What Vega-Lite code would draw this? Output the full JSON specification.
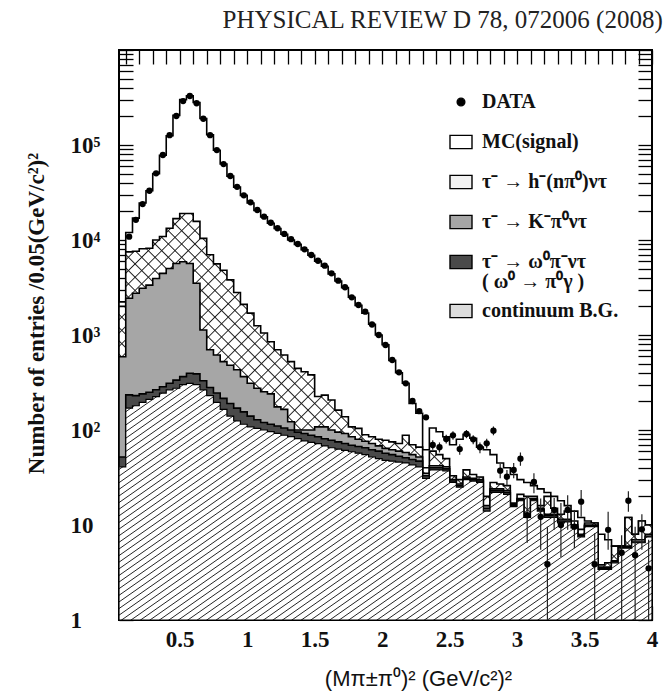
{
  "$schema": "https://vega.github.io/schema/vega-lite/v6.json",
  "width": 533,
  "height": 570,
  "autosize": {"type": "none"},
  "padding": {"left": 119, "top": 50, "right": 11, "bottom": 73},
  "background": "white",
  "config": {
    "view": {"stroke": "black", "strokeWidth": 2},
    "axis": {"grid": false, "domain": false, "tickColor": "black", "tickWidth": 1.3, "zindex": 1, "labelOverlap": false}
  },
  "title": {"text": "PHYSICAL REVIEW D 78, 072006 (2008)", "anchor": "end", "font": "Liberation Serif", "fontSize": 25, "fontWeight": "normal", "color": "#222", "offset": 6, "dx": 5},
  "datasets": {
    "bins": [
      {"x0":0.05,"x1":0.10,"C":41,"W":52,"K":590,"H":2000,"T":2230},
      {"x0":0.10,"x1":0.15,"C":170,"W":234,"K":2440,"H":7500,"T":12000},
      {"x0":0.15,"x1":0.20,"C":180,"W":230,"K":2750,"H":7600,"T":17000},
      {"x0":0.20,"x1":0.25,"C":195,"W":240,"K":3100,"H":8100,"T":24500},
      {"x0":0.25,"x1":0.30,"C":210,"W":250,"K":3350,"H":8200,"T":33000},
      {"x0":0.30,"x1":0.35,"C":225,"W":265,"K":3930,"H":10000,"T":50000},
      {"x0":0.35,"x1":0.40,"C":245,"W":285,"K":4450,"H":10900,"T":78000},
      {"x0":0.40,"x1":0.45,"C":265,"W":310,"K":5020,"H":13300,"T":125000},
      {"x0":0.45,"x1":0.50,"C":275,"W":335,"K":5650,"H":16800,"T":205000},
      {"x0":0.50,"x1":0.55,"C":300,"W":365,"K":5900,"H":19000,"T":300000},
      {"x0":0.55,"x1":0.60,"C":310,"W":395,"K":5650,"H":19000,"T":330000},
      {"x0":0.60,"x1":0.65,"C":300,"W":390,"K":3500,"H":15700,"T":280000},
      {"x0":0.65,"x1":0.70,"C":265,"W":330,"K":1130,"H":10400,"T":190000},
      {"x0":0.70,"x1":0.75,"C":230,"W":280,"K":700,"H":7000,"T":128000},
      {"x0":0.75,"x1":0.80,"C":195,"W":245,"K":615,"H":5600,"T":88000},
      {"x0":0.80,"x1":0.85,"C":165,"W":215,"K":525,"H":4800,"T":63000},
      {"x0":0.85,"x1":0.90,"C":140,"W":190,"K":480,"H":3800,"T":47000},
      {"x0":0.90,"x1":0.95,"C":125,"W":170,"K":430,"H":2800,"T":36000},
      {"x0":0.95,"x1":1.00,"C":115,"W":155,"K":365,"H":2100,"T":29500},
      {"x0":1.00,"x1":1.05,"C":108,"W":140,"K":310,"H":1700,"T":24500},
      {"x0":1.05,"x1":1.10,"C":104,"W":128,"K":275,"H":1250,"T":20500},
      {"x0":1.10,"x1":1.15,"C":100,"W":120,"K":253,"H":1050,"T":17500},
      {"x0":1.15,"x1":1.20,"C":96,"W":115,"K":240,"H":850,"T":15000},
      {"x0":1.20,"x1":1.25,"C":92,"W":110,"K":175,"H":700,"T":13200},
      {"x0":1.25,"x1":1.30,"C":88,"W":105,"K":165,"H":615,"T":11500},
      {"x0":1.30,"x1":1.35,"C":85,"W":100,"K":122,"H":525,"T":10000},
      {"x0":1.35,"x1":1.40,"C":81,"W":95,"K":100,"H":445,"T":9000},
      {"x0":1.40,"x1":1.45,"C":77,"W":92,"K":100,"H":410,"T":7900},
      {"x0":1.45,"x1":1.50,"C":74,"W":88,"K":100,"H":380,"T":6900},
      {"x0":1.50,"x1":1.55,"C":72,"W":85,"K":108,"H":225,"T":6000},
      {"x0":1.55,"x1":1.60,"C":68,"W":81,"K":108,"H":233,"T":5300},
      {"x0":1.60,"x1":1.65,"C":65,"W":78,"K":100,"H":207,"T":4400},
      {"x0":1.65,"x1":1.70,"C":63,"W":75,"K":95,"H":162,"T":3700},
      {"x0":1.70,"x1":1.75,"C":61,"W":72,"K":92,"H":138,"T":3150},
      {"x0":1.75,"x1":1.80,"C":59,"W":69,"K":85,"H":108,"T":2500},
      {"x0":1.80,"x1":1.85,"C":57,"W":67,"K":80,"H":104,"T":2050},
      {"x0":1.85,"x1":1.90,"C":55,"W":65,"K":76,"H":89,"T":1700},
      {"x0":1.90,"x1":1.95,"C":52,"W":62,"K":72,"H":85,"T":1300},
      {"x0":1.95,"x1":2.00,"C":50,"W":60,"K":68,"H":80,"T":1000},
      {"x0":2.00,"x1":2.05,"C":48,"W":57,"K":64,"H":78,"T":790},
      {"x0":2.05,"x1":2.10,"C":47,"W":55,"K":62,"H":75,"T":540},
      {"x0":2.10,"x1":2.15,"C":46,"W":53,"K":60,"H":72,"T":400},
      {"x0":2.15,"x1":2.20,"C":45,"W":51,"K":58,"H":88,"T":310},
      {"x0":2.20,"x1":2.25,"C":43,"W":49,"K":55,"H":70,"T":190},
      {"x0":2.25,"x1":2.30,"C":41,"W":47,"K":52,"H":66,"T":150},
      {"x0":2.30,"x1":2.35,"C":31,"W":33,"K":35,"H":40,"T":62},
      {"x0":2.35,"x1":2.40,"C":38,"W":40,"K":42,"H":60,"T":105},
      {"x0":2.40,"x1":2.45,"C":38,"W":40,"K":42,"H":55,"T":96},
      {"x0":2.45,"x1":2.50,"C":37,"W":39,"K":41,"H":50,"T":85},
      {"x0":2.50,"x1":2.55,"C":28,"W":29,"K":30,"H":33,"T":70},
      {"x0":2.55,"x1":2.60,"C":25,"W":26,"K":27,"H":30,"T":80},
      {"x0":2.60,"x1":2.65,"C":30,"W":31,"K":32,"H":38,"T":90},
      {"x0":2.65,"x1":2.70,"C":29,"W":30,"K":31,"H":34,"T":82},
      {"x0":2.70,"x1":2.75,"C":28,"W":29,"K":30,"H":32,"T":66},
      {"x0":2.75,"x1":2.80,"C":14,"W":15,"K":16,"H":20,"T":62},
      {"x0":2.80,"x1":2.85,"C":22,"W":23,"K":24,"H":28,"T":55},
      {"x0":2.85,"x1":2.90,"C":22,"W":23,"K":24,"H":27,"T":45},
      {"x0":2.90,"x1":2.95,"C":21,"W":22,"K":23,"H":26,"T":40},
      {"x0":2.95,"x1":3.00,"C":15.6,"W":16,"K":16.5,"H":17,"T":34},
      {"x0":3.00,"x1":3.05,"C":18,"W":18.5,"K":19,"H":21,"T":30},
      {"x0":3.05,"x1":3.10,"C":12,"W":12.5,"K":13,"H":20,"T":28},
      {"x0":3.10,"x1":3.15,"C":18,"W":18.5,"K":19,"H":20,"T":26},
      {"x0":3.15,"x1":3.20,"C":14,"W":14.5,"K":15,"H":16,"T":24},
      {"x0":3.20,"x1":3.25,"C":12,"W":12.5,"K":13,"H":20,"T":22},
      {"x0":3.25,"x1":3.30,"C":12,"W":12.5,"K":13,"H":15,"T":20},
      {"x0":3.30,"x1":3.35,"C":10.5,"W":11,"K":11.5,"H":13,"T":18},
      {"x0":3.35,"x1":3.40,"C":10.8,"W":11,"K":11.5,"H":14,"T":16},
      {"x0":3.40,"x1":3.45,"C":9.3,"W":9.5,"K":10,"H":11,"T":14},
      {"x0":3.45,"x1":3.50,"C":7.5,"W":7.7,"K":8,"H":9,"T":12},
      {"x0":3.50,"x1":3.55,"C":9.6,"W":9.8,"K":10,"H":10.5,"T":11},
      {"x0":3.55,"x1":3.60,"C":9.6,"W":9.8,"K":10,"H":10.5,"T":10.5},
      {"x0":3.60,"x1":3.65,"C":3.4,"W":3.5,"K":3.6,"H":3.8,"T":8},
      {"x0":3.65,"x1":3.70,"C":3.4,"W":3.5,"K":3.6,"H":4,"T":7},
      {"x0":3.70,"x1":3.75,"C":4,"W":4.1,"K":4.2,"H":6,"T":6},
      {"x0":3.75,"x1":3.80,"C":5.7,"W":5.8,"K":6,"H":6,"T":6},
      {"x0":3.80,"x1":3.85,"C":5.7,"W":5.8,"K":6,"H":12,"T":12},
      {"x0":3.85,"x1":3.90,"C":6.5,"W":6.6,"K":7,"H":8,"T":8},
      {"x0":3.90,"x1":3.95,"C":6.5,"W":6.6,"K":7,"H":11,"T":11},
      {"x0":3.95,"x1":4.00,"C":7.5,"W":7.6,"K":8,"H":10,"T":10}
    ],
    "pts": [
      {"xc":0.125,"n":10840},{"xc":0.175,"n":16300},{"xc":0.225,"n":23900},{"xc":0.275,"n":33000},
      {"xc":0.325,"n":50300},{"xc":0.375,"n":78500},{"xc":0.425,"n":127000},{"xc":0.475,"n":202000},
      {"xc":0.525,"n":290000},{"xc":0.575,"n":328000},{"xc":0.625,"n":275000},{"xc":0.675,"n":189000},
      {"xc":0.725,"n":127000},{"xc":0.775,"n":88500},{"xc":0.825,"n":63000},{"xc":0.875,"n":47200},
      {"xc":0.925,"n":36300},{"xc":0.975,"n":29500},{"xc":1.025,"n":24900},{"xc":1.075,"n":20700},
      {"xc":1.125,"n":17600},{"xc":1.175,"n":15200},{"xc":1.225,"n":13300},{"xc":1.275,"n":11600},
      {"xc":1.325,"n":10200},{"xc":1.375,"n":9080},{"xc":1.425,"n":7980},{"xc":1.475,"n":6950},
      {"xc":1.525,"n":6050},{"xc":1.575,"n":5370},{"xc":1.625,"n":4460},{"xc":1.675,"n":3730},
      {"xc":1.725,"n":3180},{"xc":1.775,"n":2490},{"xc":1.825,"n":2070},{"xc":1.875,"n":1760},
      {"xc":1.925,"n":1290},{"xc":1.975,"n":1000},{"xc":2.025,"n":785},{"xc":2.075,"n":546},
      {"xc":2.125,"n":405},{"xc":2.175,"n":310},{"xc":2.225,"n":202},{"xc":2.275,"n":158},
      {"xc":2.325,"n":136},
      {"xc":2.375,"n":69.5,"lo":62,"hi":78},{"xc":2.425,"n":65.8,"lo":58,"hi":74},
      {"xc":2.475,"n":80.4,"lo":72,"hi":89},{"xc":2.525,"n":87.9,"lo":79,"hi":97},
      {"xc":2.575,"n":63,"lo":55,"hi":71},{"xc":2.625,"n":90.8,"lo":82,"hi":100},
      {"xc":2.675,"n":79.8,"lo":71,"hi":88},{"xc":2.725,"n":65.8,"lo":57,"hi":74},
      {"xc":2.775,"n":72.4,"lo":64,"hi":81},{"xc":2.825,"n":98.4,"lo":88,"hi":109},
      {"xc":2.875,"n":37.3,"lo":31,"hi":44},{"xc":2.925,"n":32.2,"lo":26,"hi":38},
      {"xc":2.975,"n":37.9,"lo":31,"hi":45},{"xc":3.025,"n":49.9,"lo":42,"hi":58},
      {"xc":3.075,"n":12.7,"lo":6.5,"hi":20},{"xc":3.125,"n":28.4,"lo":21.6,"hi":35},
      {"xc":3.175,"n":12.2,"lo":5.5,"hi":19},{"xc":3.225,"n":3.86,"lo":1,"hi":9.6},
      {"xc":3.275,"n":14.4,"lo":8.9,"hi":19.2},{"xc":3.325,"n":10,"lo":4.6,"hi":17},
      {"xc":3.375,"n":14.4,"lo":8.9,"hi":20.6},{"xc":3.425,"n":9.6,"lo":5.7,"hi":14.4},
      {"xc":3.475,"n":17.6,"lo":12.2,"hi":23.4},{"xc":3.575,"n":3.86,"lo":1,"hi":8.2},
      {"xc":3.675,"n":8.9,"lo":5.5,"hi":13.8},{"xc":3.775,"n":5.1,"lo":1,"hi":7.8},
      {"xc":3.825,"n":18,"lo":13.8,"hi":22.7},{"xc":3.875,"n":4.8,"lo":1,"hi":9.6},
      {"xc":3.925,"n":9.0,"lo":5.5,"hi":13},{"xc":3.975,"n":3.5,"lo":1,"hi":7}
    ],
    "legend": [
      {"item":"DATA"},{"item":"MC(signal)"},{"item":"τ⁻ → h⁻(nπ⁰)ντ"},
      {"item":"τ⁻ → K⁻π⁰ντ"},{"item":"τ⁻ → ω⁰π⁻ντ"},{"item":"continuum B.G."}
    ]
  },
  "layer": [
    {
      "data": {"name": "bins"},
      "transform": [{"fold": ["x0", "x1"], "as": ["edge", "xp"]}],
      "mark": {"type": "area", "fill": "white", "stroke": "black", "strokeWidth": 1.6, "clip": true},
      "encoding": {
        "x": {"field": "xp", "type": "quantitative", "scale": {"domain": [0.05, 4], "nice": false, "zero": false},
          "axis": {"orient": "bottom", "offset": -14, "tickSize": 14, "values": [0.1,0.2,0.3,0.4,0.5,0.6,0.7,0.8,0.9,1,1.1,1.2,1.3,1.4,1.5,1.6,1.7,1.8,1.9,2,2.1,2.2,2.3,2.4,2.5,2.6,2.7,2.8,2.9,3,3.1,3.2,3.3,3.4,3.5,3.6,3.7,3.8,3.9,4],
            "labelExpr": "abs(datum.value*2 - round(datum.value*2)) < 0.001 ? '' + datum.value : ''",
            "encode": {"ticks": {"update": {"y": {"signal": "abs(datum.value*2 - round(datum.value*2)) < 0.001 ? 0 : 7"}}}},
            "labelFont": "Liberation Serif", "labelFontWeight": "bold", "labelFontSize": 23, "labelColor": "#111", "labelPadding": 8, "labelFlush": false,
            "title": "(Mπ±π⁰)² (GeV/c²)²", "titleFont": "Liberation Sans", "titleFontWeight": "normal", "titleFontSize": 22, "titleColor": "#111",
            "titleX": 299, "titleY": 72, "titleBaseline": "middle"}},
        "y": {"field": "T", "type": "quantitative", "scale": {"type": "log", "domain": [1, 1000000], "nice": false},
          "axis": {"orient": "left", "offset": -14, "tickSize": 14, "values": [1,2,3,4,5,6,7,8,9,10,20,30,40,50,60,70,80,90,100,200,300,400,500,600,700,800,900,1000,2000,3000,4000,5000,6000,7000,8000,9000,10000,20000,30000,40000,50000,60000,70000,80000,90000,100000,200000,300000,400000,500000,600000,700000,800000,900000,1000000],
            "encode": {"ticks": {"update": {"x": {"signal": "abs(log(datum.value)/LN10 - round(log(datum.value)/LN10)) < 0.001 ? 0 : -7"}}}},
            "labelExpr": "datum.value == 1 ? '\u20071' : datum.value == 10 ? '10' : datum.value == 100 ? '10²' : datum.value == 1000 ? '10³' : datum.value == 10000 ? '10⁴' : datum.value == 100000 ? '10⁵' : ''",
            "labelAlign": "left", "labelFont": "Liberation Serif", "labelFontWeight": "bold", "labelFontSize": 23, "labelColor": "#111", "labelPadding": 49, "labelFlush": false,
            "title": "Number of entries /0.05(GeV/c²)²", "titleFont": "Liberation Serif", "titleFontWeight": "bold", "titleFontSize": 23, "titleColor": "#111",
            "titleX": -97, "titleY": 263, "titleBaseline": "middle", "titleAngle": 270}},
        "y2": {"datum": 1}
      }
    },
    {
      "data": {"name": "bins"},
      "transform": [{"fold": ["x0", "x1"], "as": ["edge", "xp"]}],
      "mark": {"type": "area", "clip": true, "strokeWidth": 0,
        "fill": {"gradient": "linear", "x1": 0, "y1": 0, "x2": 1.577, "y2": 1.204, "stops": [
          {"offset":0,"color":"#222"},{"offset":0.001,"color":"#fff"},{"offset":0.009,"color":"#fff"},
          {"offset":0.01,"color":"#222"},{"offset":0.011,"color":"#fff"},{"offset":0.019,"color":"#fff"},
          {"offset":0.02,"color":"#222"},{"offset":0.021,"color":"#fff"},{"offset":0.029,"color":"#fff"},
          {"offset":0.03,"color":"#222"},{"offset":0.031,"color":"#fff"},{"offset":0.039,"color":"#fff"},
          {"offset":0.04,"color":"#222"},{"offset":0.041,"color":"#fff"},{"offset":0.049,"color":"#fff"},
          {"offset":0.05,"color":"#222"},{"offset":0.051,"color":"#fff"},{"offset":0.059,"color":"#fff"},
          {"offset":0.06,"color":"#222"},{"offset":0.061,"color":"#fff"},{"offset":0.069,"color":"#fff"},
          {"offset":0.07,"color":"#222"},{"offset":0.071,"color":"#fff"},{"offset":0.079,"color":"#fff"},
          {"offset":0.08,"color":"#222"},{"offset":0.081,"color":"#fff"},{"offset":0.089,"color":"#fff"},
          {"offset":0.09,"color":"#222"},{"offset":0.091,"color":"#fff"},{"offset":0.099,"color":"#fff"},
          {"offset":0.10,"color":"#222"},{"offset":0.101,"color":"#fff"},{"offset":0.109,"color":"#fff"},
          {"offset":0.11,"color":"#222"},{"offset":0.111,"color":"#fff"},{"offset":0.119,"color":"#fff"},
          {"offset":0.12,"color":"#222"},{"offset":0.121,"color":"#fff"},{"offset":0.129,"color":"#fff"},
          {"offset":0.13,"color":"#222"},{"offset":0.131,"color":"#fff"},{"offset":0.139,"color":"#fff"},
          {"offset":0.14,"color":"#222"},{"offset":0.141,"color":"#fff"},{"offset":0.149,"color":"#fff"},
          {"offset":0.15,"color":"#222"},{"offset":0.151,"color":"#fff"},{"offset":0.159,"color":"#fff"},
          {"offset":0.16,"color":"#222"},{"offset":0.161,"color":"#fff"},{"offset":0.169,"color":"#fff"},
          {"offset":0.17,"color":"#222"},{"offset":0.171,"color":"#fff"},{"offset":0.179,"color":"#fff"},
          {"offset":0.18,"color":"#222"},{"offset":0.181,"color":"#fff"},{"offset":0.189,"color":"#fff"},
          {"offset":0.19,"color":"#222"},{"offset":0.191,"color":"#fff"},{"offset":0.199,"color":"#fff"},
          {"offset":0.20,"color":"#222"},{"offset":0.201,"color":"#fff"},{"offset":0.209,"color":"#fff"},
          {"offset":0.21,"color":"#222"},{"offset":0.211,"color":"#fff"},{"offset":0.219,"color":"#fff"},
          {"offset":0.22,"color":"#222"},{"offset":0.221,"color":"#fff"},{"offset":0.229,"color":"#fff"},
          {"offset":0.23,"color":"#222"},{"offset":0.231,"color":"#fff"},{"offset":0.239,"color":"#fff"},
          {"offset":0.24,"color":"#222"},{"offset":0.241,"color":"#fff"},{"offset":0.249,"color":"#fff"},
          {"offset":0.25,"color":"#222"},{"offset":0.251,"color":"#fff"},{"offset":0.259,"color":"#fff"},
          {"offset":0.26,"color":"#222"},{"offset":0.261,"color":"#fff"},{"offset":0.269,"color":"#fff"},
          {"offset":0.27,"color":"#222"},{"offset":0.271,"color":"#fff"},{"offset":0.279,"color":"#fff"},
          {"offset":0.28,"color":"#222"},{"offset":0.281,"color":"#fff"},{"offset":0.289,"color":"#fff"},
          {"offset":0.29,"color":"#222"},{"offset":0.291,"color":"#fff"},{"offset":0.299,"color":"#fff"},
          {"offset":0.30,"color":"#222"},{"offset":0.301,"color":"#fff"},{"offset":0.309,"color":"#fff"},
          {"offset":0.31,"color":"#222"},{"offset":0.311,"color":"#fff"},{"offset":0.319,"color":"#fff"},
          {"offset":0.32,"color":"#222"},{"offset":0.321,"color":"#fff"},{"offset":0.329,"color":"#fff"},
          {"offset":0.33,"color":"#222"},{"offset":0.331,"color":"#fff"},{"offset":0.339,"color":"#fff"},
          {"offset":0.34,"color":"#222"},{"offset":0.341,"color":"#fff"},{"offset":0.349,"color":"#fff"},
          {"offset":0.35,"color":"#222"},{"offset":0.351,"color":"#fff"},{"offset":0.359,"color":"#fff"},
          {"offset":0.36,"color":"#222"},{"offset":0.361,"color":"#fff"},{"offset":0.369,"color":"#fff"},
          {"offset":0.37,"color":"#222"},{"offset":0.371,"color":"#fff"},{"offset":0.379,"color":"#fff"},
          {"offset":0.38,"color":"#222"},{"offset":0.381,"color":"#fff"},{"offset":0.389,"color":"#fff"},
          {"offset":0.39,"color":"#222"},{"offset":0.391,"color":"#fff"},{"offset":0.399,"color":"#fff"},
          {"offset":0.40,"color":"#222"},{"offset":0.401,"color":"#fff"},{"offset":0.409,"color":"#fff"},
          {"offset":0.41,"color":"#222"},{"offset":0.411,"color":"#fff"},{"offset":0.419,"color":"#fff"},
          {"offset":0.42,"color":"#222"},{"offset":0.421,"color":"#fff"},{"offset":0.429,"color":"#fff"},
          {"offset":0.43,"color":"#222"},{"offset":0.431,"color":"#fff"},{"offset":0.439,"color":"#fff"},
          {"offset":0.44,"color":"#222"},{"offset":0.441,"color":"#fff"},{"offset":0.449,"color":"#fff"},
          {"offset":0.45,"color":"#222"},{"offset":0.451,"color":"#fff"},{"offset":0.459,"color":"#fff"},
          {"offset":0.46,"color":"#222"},{"offset":0.461,"color":"#fff"},{"offset":0.469,"color":"#fff"},
          {"offset":0.47,"color":"#222"},{"offset":0.471,"color":"#fff"},{"offset":0.479,"color":"#fff"},
          {"offset":0.48,"color":"#222"},{"offset":0.481,"color":"#fff"},{"offset":0.489,"color":"#fff"},
          {"offset":0.49,"color":"#222"},{"offset":0.491,"color":"#fff"},{"offset":0.499,"color":"#fff"},
          {"offset":0.50,"color":"#222"},{"offset":0.501,"color":"#fff"},{"offset":0.509,"color":"#fff"},
          {"offset":0.51,"color":"#222"},{"offset":0.511,"color":"#fff"},{"offset":0.519,"color":"#fff"},
          {"offset":0.52,"color":"#222"},{"offset":0.521,"color":"#fff"},{"offset":0.529,"color":"#fff"},
          {"offset":0.53,"color":"#222"},{"offset":0.531,"color":"#fff"},{"offset":0.539,"color":"#fff"},
          {"offset":0.54,"color":"#222"},{"offset":0.541,"color":"#fff"},{"offset":0.549,"color":"#fff"},
          {"offset":0.55,"color":"#222"},{"offset":0.551,"color":"#fff"},{"offset":0.559,"color":"#fff"},
          {"offset":0.56,"color":"#222"},{"offset":0.561,"color":"#fff"},{"offset":0.569,"color":"#fff"},
          {"offset":0.57,"color":"#222"},{"offset":0.571,"color":"#fff"},{"offset":0.579,"color":"#fff"},
          {"offset":0.58,"color":"#222"},{"offset":0.581,"color":"#fff"},{"offset":0.589,"color":"#fff"},
          {"offset":0.59,"color":"#222"},{"offset":0.591,"color":"#fff"},{"offset":0.599,"color":"#fff"},
          {"offset":0.60,"color":"#222"},{"offset":0.601,"color":"#fff"},{"offset":0.609,"color":"#fff"},
          {"offset":0.61,"color":"#222"},{"offset":0.611,"color":"#fff"},{"offset":0.619,"color":"#fff"},
          {"offset":0.62,"color":"#222"},{"offset":0.621,"color":"#fff"},{"offset":0.629,"color":"#fff"},
          {"offset":0.63,"color":"#222"},{"offset":0.631,"color":"#fff"},{"offset":0.639,"color":"#fff"},
          {"offset":0.64,"color":"#222"},{"offset":0.641,"color":"#fff"},{"offset":0.649,"color":"#fff"},
          {"offset":0.65,"color":"#222"},{"offset":0.651,"color":"#fff"},{"offset":0.659,"color":"#fff"},
          {"offset":0.66,"color":"#222"},{"offset":0.661,"color":"#fff"},{"offset":0.669,"color":"#fff"},
          {"offset":0.67,"color":"#222"},{"offset":0.671,"color":"#fff"},{"offset":0.679,"color":"#fff"},
          {"offset":0.68,"color":"#222"},{"offset":0.681,"color":"#fff"},{"offset":0.689,"color":"#fff"},
          {"offset":0.69,"color":"#222"},{"offset":0.691,"color":"#fff"},{"offset":0.699,"color":"#fff"},
          {"offset":0.70,"color":"#222"},{"offset":0.701,"color":"#fff"},{"offset":0.709,"color":"#fff"},
          {"offset":0.71,"color":"#222"},{"offset":0.711,"color":"#fff"}
        ]}},
      "encoding": {
        "x": {"field": "xp", "type": "quantitative",
          "axis": {"orient": "top", "offset": -14, "tickSize": 14, "labels": false, "title": null,
            "values": [0.1,0.2,0.3,0.4,0.5,0.6,0.7,0.8,0.9,1,1.1,1.2,1.3,1.4,1.5,1.6,1.7,1.8,1.9,2,2.1,2.2,2.3,2.4,2.5,2.6,2.7,2.8,2.9,3,3.1,3.2,3.3,3.4,3.5,3.6,3.7,3.8,3.9,4],
            "encode": {"ticks": {"update": {"y": {"signal": "abs(datum.value*2 - round(datum.value*2)) < 0.001 ? 0 : -7"}}}}}},
        "y": {"field": "H", "type": "quantitative",
          "axis": {"orient": "right", "offset": -14, "tickSize": 14, "labels": false, "title": null,
            "values": [1,2,3,4,5,6,7,8,9,10,20,30,40,50,60,70,80,90,100,200,300,400,500,600,700,800,900,1000,2000,3000,4000,5000,6000,7000,8000,9000,10000,20000,30000,40000,50000,60000,70000,80000,90000,100000,200000,300000,400000,500000,600000,700000,800000,900000,1000000],
            "encode": {"ticks": {"update": {"x": {"signal": "abs(log(datum.value)/LN10 - round(log(datum.value)/LN10)) < 0.001 ? 0 : 7"}}}}}},
        "y2": {"datum": 1}
      }
    },
    {
      "data": {"name": "bins"},
      "transform": [{"fold": ["x0", "x1"], "as": ["edge", "xp"]}],
      "mark": {"type": "area", "clip": true, "stroke": "black", "strokeWidth": 1.6,
        "fill": {"gradient": "linear", "x1": 0, "y1": 1, "x2": 1.577, "y2": -0.204, "stops": [
          {"offset":0,"color":"#222"},{"offset":0.001,"color":"rgba(0,0,0,0)"},{"offset":0.009,"color":"rgba(0,0,0,0)"},
          {"offset":0.01,"color":"#222"},{"offset":0.011,"color":"rgba(0,0,0,0)"},{"offset":0.019,"color":"rgba(0,0,0,0)"},
          {"offset":0.02,"color":"#222"},{"offset":0.021,"color":"rgba(0,0,0,0)"},{"offset":0.029,"color":"rgba(0,0,0,0)"},
          {"offset":0.03,"color":"#222"},{"offset":0.031,"color":"rgba(0,0,0,0)"},{"offset":0.039,"color":"rgba(0,0,0,0)"},
          {"offset":0.04,"color":"#222"},{"offset":0.041,"color":"rgba(0,0,0,0)"},{"offset":0.049,"color":"rgba(0,0,0,0)"},
          {"offset":0.05,"color":"#222"},{"offset":0.051,"color":"rgba(0,0,0,0)"},{"offset":0.059,"color":"rgba(0,0,0,0)"},
          {"offset":0.06,"color":"#222"},{"offset":0.061,"color":"rgba(0,0,0,0)"},{"offset":0.069,"color":"rgba(0,0,0,0)"},
          {"offset":0.07,"color":"#222"},{"offset":0.071,"color":"rgba(0,0,0,0)"},{"offset":0.079,"color":"rgba(0,0,0,0)"},
          {"offset":0.08,"color":"#222"},{"offset":0.081,"color":"rgba(0,0,0,0)"},{"offset":0.089,"color":"rgba(0,0,0,0)"},
          {"offset":0.09,"color":"#222"},{"offset":0.091,"color":"rgba(0,0,0,0)"},{"offset":0.099,"color":"rgba(0,0,0,0)"},
          {"offset":0.10,"color":"#222"},{"offset":0.101,"color":"rgba(0,0,0,0)"},{"offset":0.109,"color":"rgba(0,0,0,0)"},
          {"offset":0.11,"color":"#222"},{"offset":0.111,"color":"rgba(0,0,0,0)"},{"offset":0.119,"color":"rgba(0,0,0,0)"},
          {"offset":0.12,"color":"#222"},{"offset":0.121,"color":"rgba(0,0,0,0)"},{"offset":0.129,"color":"rgba(0,0,0,0)"},
          {"offset":0.13,"color":"#222"},{"offset":0.131,"color":"rgba(0,0,0,0)"},{"offset":0.139,"color":"rgba(0,0,0,0)"},
          {"offset":0.14,"color":"#222"},{"offset":0.141,"color":"rgba(0,0,0,0)"},{"offset":0.149,"color":"rgba(0,0,0,0)"},
          {"offset":0.15,"color":"#222"},{"offset":0.151,"color":"rgba(0,0,0,0)"},{"offset":0.159,"color":"rgba(0,0,0,0)"},
          {"offset":0.16,"color":"#222"},{"offset":0.161,"color":"rgba(0,0,0,0)"},{"offset":0.169,"color":"rgba(0,0,0,0)"},
          {"offset":0.17,"color":"#222"},{"offset":0.171,"color":"rgba(0,0,0,0)"},{"offset":0.179,"color":"rgba(0,0,0,0)"},
          {"offset":0.18,"color":"#222"},{"offset":0.181,"color":"rgba(0,0,0,0)"},{"offset":0.189,"color":"rgba(0,0,0,0)"},
          {"offset":0.19,"color":"#222"},{"offset":0.191,"color":"rgba(0,0,0,0)"},{"offset":0.199,"color":"rgba(0,0,0,0)"},
          {"offset":0.20,"color":"#222"},{"offset":0.201,"color":"rgba(0,0,0,0)"},{"offset":0.209,"color":"rgba(0,0,0,0)"},
          {"offset":0.21,"color":"#222"},{"offset":0.211,"color":"rgba(0,0,0,0)"},{"offset":0.219,"color":"rgba(0,0,0,0)"},
          {"offset":0.22,"color":"#222"},{"offset":0.221,"color":"rgba(0,0,0,0)"},{"offset":0.229,"color":"rgba(0,0,0,0)"},
          {"offset":0.23,"color":"#222"},{"offset":0.231,"color":"rgba(0,0,0,0)"},{"offset":0.239,"color":"rgba(0,0,0,0)"},
          {"offset":0.24,"color":"#222"},{"offset":0.241,"color":"rgba(0,0,0,0)"},{"offset":0.249,"color":"rgba(0,0,0,0)"},
          {"offset":0.25,"color":"#222"},{"offset":0.251,"color":"rgba(0,0,0,0)"},{"offset":0.259,"color":"rgba(0,0,0,0)"},
          {"offset":0.26,"color":"#222"},{"offset":0.261,"color":"rgba(0,0,0,0)"},{"offset":0.269,"color":"rgba(0,0,0,0)"},
          {"offset":0.27,"color":"#222"},{"offset":0.271,"color":"rgba(0,0,0,0)"},{"offset":0.279,"color":"rgba(0,0,0,0)"},
          {"offset":0.28,"color":"#222"},{"offset":0.281,"color":"rgba(0,0,0,0)"},{"offset":0.289,"color":"rgba(0,0,0,0)"},
          {"offset":0.29,"color":"#222"},{"offset":0.291,"color":"rgba(0,0,0,0)"},{"offset":0.299,"color":"rgba(0,0,0,0)"},
          {"offset":0.30,"color":"#222"},{"offset":0.301,"color":"rgba(0,0,0,0)"},{"offset":0.309,"color":"rgba(0,0,0,0)"},
          {"offset":0.31,"color":"#222"},{"offset":0.311,"color":"rgba(0,0,0,0)"},{"offset":0.319,"color":"rgba(0,0,0,0)"},
          {"offset":0.32,"color":"#222"},{"offset":0.321,"color":"rgba(0,0,0,0)"},{"offset":0.329,"color":"rgba(0,0,0,0)"},
          {"offset":0.33,"color":"#222"},{"offset":0.331,"color":"rgba(0,0,0,0)"},{"offset":0.339,"color":"rgba(0,0,0,0)"},
          {"offset":0.34,"color":"#222"},{"offset":0.341,"color":"rgba(0,0,0,0)"},{"offset":0.349,"color":"rgba(0,0,0,0)"},
          {"offset":0.35,"color":"#222"},{"offset":0.351,"color":"rgba(0,0,0,0)"},{"offset":0.359,"color":"rgba(0,0,0,0)"},
          {"offset":0.36,"color":"#222"},{"offset":0.361,"color":"rgba(0,0,0,0)"},{"offset":0.369,"color":"rgba(0,0,0,0)"},
          {"offset":0.37,"color":"#222"},{"offset":0.371,"color":"rgba(0,0,0,0)"},{"offset":0.379,"color":"rgba(0,0,0,0)"},
          {"offset":0.38,"color":"#222"},{"offset":0.381,"color":"rgba(0,0,0,0)"},{"offset":0.389,"color":"rgba(0,0,0,0)"},
          {"offset":0.39,"color":"#222"},{"offset":0.391,"color":"rgba(0,0,0,0)"},{"offset":0.399,"color":"rgba(0,0,0,0)"},
          {"offset":0.40,"color":"#222"},{"offset":0.401,"color":"rgba(0,0,0,0)"},{"offset":0.409,"color":"rgba(0,0,0,0)"},
          {"offset":0.41,"color":"#222"},{"offset":0.411,"color":"rgba(0,0,0,0)"},{"offset":0.419,"color":"rgba(0,0,0,0)"},
          {"offset":0.42,"color":"#222"},{"offset":0.421,"color":"rgba(0,0,0,0)"},{"offset":0.429,"color":"rgba(0,0,0,0)"},
          {"offset":0.43,"color":"#222"},{"offset":0.431,"color":"rgba(0,0,0,0)"},{"offset":0.439,"color":"rgba(0,0,0,0)"},
          {"offset":0.44,"color":"#222"},{"offset":0.441,"color":"rgba(0,0,0,0)"},{"offset":0.449,"color":"rgba(0,0,0,0)"},
          {"offset":0.45,"color":"#222"},{"offset":0.451,"color":"rgba(0,0,0,0)"},{"offset":0.459,"color":"rgba(0,0,0,0)"},
          {"offset":0.46,"color":"#222"},{"offset":0.461,"color":"rgba(0,0,0,0)"},{"offset":0.469,"color":"rgba(0,0,0,0)"},
          {"offset":0.47,"color":"#222"},{"offset":0.471,"color":"rgba(0,0,0,0)"},{"offset":0.479,"color":"rgba(0,0,0,0)"},
          {"offset":0.48,"color":"#222"},{"offset":0.481,"color":"rgba(0,0,0,0)"},{"offset":0.489,"color":"rgba(0,0,0,0)"},
          {"offset":0.49,"color":"#222"},{"offset":0.491,"color":"rgba(0,0,0,0)"},{"offset":0.499,"color":"rgba(0,0,0,0)"},
          {"offset":0.50,"color":"#222"},{"offset":0.501,"color":"rgba(0,0,0,0)"},{"offset":0.509,"color":"rgba(0,0,0,0)"},
          {"offset":0.51,"color":"#222"},{"offset":0.511,"color":"rgba(0,0,0,0)"},{"offset":0.519,"color":"rgba(0,0,0,0)"},
          {"offset":0.52,"color":"#222"},{"offset":0.521,"color":"rgba(0,0,0,0)"},{"offset":0.529,"color":"rgba(0,0,0,0)"},
          {"offset":0.53,"color":"#222"},{"offset":0.531,"color":"rgba(0,0,0,0)"},{"offset":0.539,"color":"rgba(0,0,0,0)"},
          {"offset":0.54,"color":"#222"},{"offset":0.541,"color":"rgba(0,0,0,0)"},{"offset":0.549,"color":"rgba(0,0,0,0)"},
          {"offset":0.55,"color":"#222"},{"offset":0.551,"color":"rgba(0,0,0,0)"},{"offset":0.559,"color":"rgba(0,0,0,0)"},
          {"offset":0.56,"color":"#222"},{"offset":0.561,"color":"rgba(0,0,0,0)"},{"offset":0.569,"color":"rgba(0,0,0,0)"},
          {"offset":0.57,"color":"#222"},{"offset":0.571,"color":"rgba(0,0,0,0)"},{"offset":0.579,"color":"rgba(0,0,0,0)"},
          {"offset":0.58,"color":"#222"},{"offset":0.581,"color":"rgba(0,0,0,0)"},{"offset":0.589,"color":"rgba(0,0,0,0)"},
          {"offset":0.59,"color":"#222"},{"offset":0.591,"color":"rgba(0,0,0,0)"},{"offset":0.599,"color":"rgba(0,0,0,0)"},
          {"offset":0.60,"color":"#222"},{"offset":0.601,"color":"rgba(0,0,0,0)"},{"offset":0.609,"color":"rgba(0,0,0,0)"},
          {"offset":0.61,"color":"#222"},{"offset":0.611,"color":"rgba(0,0,0,0)"},{"offset":0.619,"color":"rgba(0,0,0,0)"},
          {"offset":0.62,"color":"#222"},{"offset":0.621,"color":"rgba(0,0,0,0)"},{"offset":0.629,"color":"rgba(0,0,0,0)"},
          {"offset":0.63,"color":"#222"},{"offset":0.631,"color":"rgba(0,0,0,0)"},{"offset":0.639,"color":"rgba(0,0,0,0)"},
          {"offset":0.64,"color":"#222"},{"offset":0.641,"color":"rgba(0,0,0,0)"},{"offset":0.649,"color":"rgba(0,0,0,0)"},
          {"offset":0.65,"color":"#222"},{"offset":0.651,"color":"rgba(0,0,0,0)"},{"offset":0.659,"color":"rgba(0,0,0,0)"},
          {"offset":0.66,"color":"#222"},{"offset":0.661,"color":"rgba(0,0,0,0)"},{"offset":0.669,"color":"rgba(0,0,0,0)"},
          {"offset":0.67,"color":"#222"},{"offset":0.671,"color":"rgba(0,0,0,0)"},{"offset":0.679,"color":"rgba(0,0,0,0)"},
          {"offset":0.68,"color":"#222"},{"offset":0.681,"color":"rgba(0,0,0,0)"},{"offset":0.689,"color":"rgba(0,0,0,0)"},
          {"offset":0.69,"color":"#222"},{"offset":0.691,"color":"rgba(0,0,0,0)"},{"offset":0.699,"color":"rgba(0,0,0,0)"},
          {"offset":0.70,"color":"#222"},{"offset":0.701,"color":"rgba(0,0,0,0)"},{"offset":0.709,"color":"rgba(0,0,0,0)"},
          {"offset":0.71,"color":"#222"},{"offset":0.711,"color":"rgba(0,0,0,0)"}
        ]}},
      "encoding": {
        "x": {"field": "xp", "type": "quantitative", "axis": null},
        "y": {"field": "H", "type": "quantitative", "axis": null},
        "y2": {"datum": 1}
      }
    },
    {
      "data": {"name": "bins"},
      "transform": [{"fold": ["x0", "x1"], "as": ["edge", "xp"]}],
      "mark": {"type": "area", "fill": "#a6a6a6", "stroke": "black", "strokeWidth": 1.6, "clip": true},
      "encoding": {
        "x": {"field": "xp", "type": "quantitative", "axis": null},
        "y": {"field": "K", "type": "quantitative", "axis": null},
        "y2": {"datum": 1}
      }
    },
    {
      "data": {"name": "bins"},
      "transform": [{"fold": ["x0", "x1"], "as": ["edge", "xp"]}],
      "mark": {"type": "area", "fill": "#4a4a4a", "stroke": "black", "strokeWidth": 1.6, "clip": true},
      "encoding": {
        "x": {"field": "xp", "type": "quantitative", "axis": null},
        "y": {"field": "W", "type": "quantitative", "axis": null},
        "y2": {"datum": 1}
      }
    },
    {
      "data": {"name": "bins"},
      "transform": [{"fold": ["x0", "x1"], "as": ["edge", "xp"]}],
      "mark": {"type": "area", "stroke": "black", "strokeWidth": 1.2, "clip": true,
        "fill": {"gradient": "linear", "x1": 0, "y1": 0, "x2": 1.266, "y2": 0.803, "stops": [
          {"offset":0,"color":"#222"},{"offset":0.0015,"color":"#fff"},{"offset":0.0085,"color":"#fff"},
          {"offset":0.01,"color":"#222"},{"offset":0.0115,"color":"#fff"},{"offset":0.0185,"color":"#fff"},
          {"offset":0.02,"color":"#222"},{"offset":0.0215,"color":"#fff"},{"offset":0.0285,"color":"#fff"},
          {"offset":0.03,"color":"#222"},{"offset":0.0315,"color":"#fff"},{"offset":0.0385,"color":"#fff"},
          {"offset":0.04,"color":"#222"},{"offset":0.0415,"color":"#fff"},{"offset":0.0485,"color":"#fff"},
          {"offset":0.05,"color":"#222"},{"offset":0.0515,"color":"#fff"},{"offset":0.0585,"color":"#fff"},
          {"offset":0.06,"color":"#222"},{"offset":0.0615,"color":"#fff"},{"offset":0.0685,"color":"#fff"},
          {"offset":0.07,"color":"#222"},{"offset":0.0715,"color":"#fff"},{"offset":0.0785,"color":"#fff"},
          {"offset":0.08,"color":"#222"},{"offset":0.0815,"color":"#fff"},{"offset":0.0885,"color":"#fff"},
          {"offset":0.09,"color":"#222"},{"offset":0.0915,"color":"#fff"},{"offset":0.0985,"color":"#fff"},
          {"offset":0.10,"color":"#222"},{"offset":0.1015,"color":"#fff"},{"offset":0.1085,"color":"#fff"},
          {"offset":0.11,"color":"#222"},{"offset":0.1115,"color":"#fff"},{"offset":0.1185,"color":"#fff"},
          {"offset":0.12,"color":"#222"},{"offset":0.1215,"color":"#fff"},{"offset":0.1285,"color":"#fff"},
          {"offset":0.13,"color":"#222"},{"offset":0.1315,"color":"#fff"},{"offset":0.1385,"color":"#fff"},
          {"offset":0.14,"color":"#222"},{"offset":0.1415,"color":"#fff"},{"offset":0.1485,"color":"#fff"},
          {"offset":0.15,"color":"#222"},{"offset":0.1515,"color":"#fff"},{"offset":0.1585,"color":"#fff"},
          {"offset":0.16,"color":"#222"},{"offset":0.1615,"color":"#fff"},{"offset":0.1685,"color":"#fff"},
          {"offset":0.17,"color":"#222"},{"offset":0.1715,"color":"#fff"},{"offset":0.1785,"color":"#fff"},
          {"offset":0.18,"color":"#222"},{"offset":0.1815,"color":"#fff"},{"offset":0.1885,"color":"#fff"},
          {"offset":0.19,"color":"#222"},{"offset":0.1915,"color":"#fff"},{"offset":0.1985,"color":"#fff"},
          {"offset":0.20,"color":"#222"},{"offset":0.2015,"color":"#fff"},{"offset":0.2085,"color":"#fff"},
          {"offset":0.21,"color":"#222"},{"offset":0.2115,"color":"#fff"},{"offset":0.2185,"color":"#fff"},
          {"offset":0.22,"color":"#222"},{"offset":0.2215,"color":"#fff"},{"offset":0.2285,"color":"#fff"},
          {"offset":0.23,"color":"#222"},{"offset":0.2315,"color":"#fff"},{"offset":0.2385,"color":"#fff"},
          {"offset":0.24,"color":"#222"},{"offset":0.2415,"color":"#fff"},{"offset":0.2485,"color":"#fff"},
          {"offset":0.25,"color":"#222"},{"offset":0.2515,"color":"#fff"},{"offset":0.2585,"color":"#fff"},
          {"offset":0.26,"color":"#222"},{"offset":0.2615,"color":"#fff"},{"offset":0.2685,"color":"#fff"},
          {"offset":0.27,"color":"#222"},{"offset":0.2715,"color":"#fff"},{"offset":0.2785,"color":"#fff"},
          {"offset":0.28,"color":"#222"},{"offset":0.2815,"color":"#fff"},{"offset":0.2885,"color":"#fff"},
          {"offset":0.29,"color":"#222"},{"offset":0.2915,"color":"#fff"},{"offset":0.2985,"color":"#fff"},
          {"offset":0.30,"color":"#222"},{"offset":0.3015,"color":"#fff"},{"offset":0.3085,"color":"#fff"},
          {"offset":0.31,"color":"#222"},{"offset":0.3115,"color":"#fff"},{"offset":0.3185,"color":"#fff"},
          {"offset":0.32,"color":"#222"},{"offset":0.3215,"color":"#fff"},{"offset":0.3285,"color":"#fff"},
          {"offset":0.33,"color":"#222"},{"offset":0.3315,"color":"#fff"},{"offset":0.3385,"color":"#fff"},
          {"offset":0.34,"color":"#222"},{"offset":0.3415,"color":"#fff"},{"offset":0.3485,"color":"#fff"},
          {"offset":0.35,"color":"#222"},{"offset":0.3515,"color":"#fff"},{"offset":0.3585,"color":"#fff"},
          {"offset":0.36,"color":"#222"},{"offset":0.3615,"color":"#fff"},{"offset":0.3685,"color":"#fff"},
          {"offset":0.37,"color":"#222"},{"offset":0.3715,"color":"#fff"},{"offset":0.3785,"color":"#fff"},
          {"offset":0.38,"color":"#222"},{"offset":0.3815,"color":"#fff"},{"offset":0.3885,"color":"#fff"},
          {"offset":0.39,"color":"#222"},{"offset":0.3915,"color":"#fff"},{"offset":0.3985,"color":"#fff"},
          {"offset":0.40,"color":"#222"},{"offset":0.4015,"color":"#fff"},{"offset":0.4085,"color":"#fff"},
          {"offset":0.41,"color":"#222"},{"offset":0.4115,"color":"#fff"},{"offset":0.4185,"color":"#fff"},
          {"offset":0.42,"color":"#222"},{"offset":0.4215,"color":"#fff"},{"offset":0.4285,"color":"#fff"},
          {"offset":0.43,"color":"#222"},{"offset":0.4315,"color":"#fff"},{"offset":0.4385,"color":"#fff"},
          {"offset":0.44,"color":"#222"},{"offset":0.4415,"color":"#fff"},{"offset":0.4485,"color":"#fff"},
          {"offset":0.45,"color":"#222"},{"offset":0.4515,"color":"#fff"},{"offset":0.4585,"color":"#fff"},
          {"offset":0.46,"color":"#222"},{"offset":0.4615,"color":"#fff"},{"offset":0.4685,"color":"#fff"},
          {"offset":0.47,"color":"#222"},{"offset":0.4715,"color":"#fff"},{"offset":0.4785,"color":"#fff"},
          {"offset":0.48,"color":"#222"},{"offset":0.4815,"color":"#fff"},{"offset":0.4885,"color":"#fff"},
          {"offset":0.49,"color":"#222"},{"offset":0.4915,"color":"#fff"},{"offset":0.4985,"color":"#fff"},
          {"offset":0.50,"color":"#222"},{"offset":0.5015,"color":"#fff"},{"offset":0.5085,"color":"#fff"},
          {"offset":0.51,"color":"#222"},{"offset":0.5115,"color":"#fff"},{"offset":0.5185,"color":"#fff"},
          {"offset":0.52,"color":"#222"},{"offset":0.5215,"color":"#fff"},{"offset":0.5285,"color":"#fff"},
          {"offset":0.53,"color":"#222"},{"offset":0.5315,"color":"#fff"},{"offset":0.5385,"color":"#fff"},
          {"offset":0.54,"color":"#222"},{"offset":0.5415,"color":"#fff"},{"offset":0.5485,"color":"#fff"},
          {"offset":0.55,"color":"#222"},{"offset":0.5515,"color":"#fff"},{"offset":0.5585,"color":"#fff"},
          {"offset":0.56,"color":"#222"},{"offset":0.5615,"color":"#fff"},{"offset":0.5685,"color":"#fff"},
          {"offset":0.57,"color":"#222"},{"offset":0.5715,"color":"#fff"},{"offset":0.5785,"color":"#fff"},
          {"offset":0.58,"color":"#222"},{"offset":0.5815,"color":"#fff"},{"offset":0.5885,"color":"#fff"},
          {"offset":0.59,"color":"#222"},{"offset":0.5915,"color":"#fff"},{"offset":0.5985,"color":"#fff"},
          {"offset":0.60,"color":"#222"},{"offset":0.6015,"color":"#fff"},{"offset":0.6085,"color":"#fff"},
          {"offset":0.61,"color":"#222"},{"offset":0.6115,"color":"#fff"},{"offset":0.6185,"color":"#fff"},
          {"offset":0.62,"color":"#222"},{"offset":0.6215,"color":"#fff"},{"offset":0.6285,"color":"#fff"},
          {"offset":0.63,"color":"#222"},{"offset":0.6315,"color":"#fff"},{"offset":0.6385,"color":"#fff"},
          {"offset":0.64,"color":"#222"},{"offset":0.6415,"color":"#fff"},{"offset":0.6485,"color":"#fff"},
          {"offset":0.65,"color":"#222"},{"offset":0.6515,"color":"#fff"},{"offset":0.6585,"color":"#fff"},
          {"offset":0.66,"color":"#222"},{"offset":0.6615,"color":"#fff"},{"offset":0.6685,"color":"#fff"},
          {"offset":0.67,"color":"#222"},{"offset":0.6715,"color":"#fff"},{"offset":0.6785,"color":"#fff"},
          {"offset":0.68,"color":"#222"},{"offset":0.6815,"color":"#fff"},{"offset":0.6885,"color":"#fff"},
          {"offset":0.69,"color":"#222"},{"offset":0.6915,"color":"#fff"},{"offset":0.6985,"color":"#fff"},
          {"offset":0.70,"color":"#222"},{"offset":0.7015,"color":"#fff"},{"offset":0.7085,"color":"#fff"},
          {"offset":0.71,"color":"#222"},{"offset":0.7115,"color":"#fff"},{"offset":0.7185,"color":"#fff"},
          {"offset":0.72,"color":"#222"},{"offset":0.7215,"color":"#fff"},{"offset":0.7285,"color":"#fff"},
          {"offset":0.73,"color":"#222"},{"offset":0.7315,"color":"#fff"},{"offset":0.7385,"color":"#fff"},
          {"offset":0.74,"color":"#222"},{"offset":0.7415,"color":"#fff"},{"offset":0.7485,"color":"#fff"},
          {"offset":0.75,"color":"#222"},{"offset":0.7515,"color":"#fff"},{"offset":0.7585,"color":"#fff"},
          {"offset":0.76,"color":"#222"},{"offset":0.7615,"color":"#fff"},{"offset":0.7685,"color":"#fff"},
          {"offset":0.77,"color":"#222"},{"offset":0.7715,"color":"#fff"},{"offset":0.7785,"color":"#fff"},
          {"offset":0.78,"color":"#222"},{"offset":0.7815,"color":"#fff"},{"offset":0.7885,"color":"#fff"},
          {"offset":0.79,"color":"#222"},{"offset":0.7915,"color":"#fff"},{"offset":0.7985,"color":"#fff"},
          {"offset":0.80,"color":"#222"},{"offset":0.8015,"color":"#fff"},{"offset":0.8085,"color":"#fff"},
          {"offset":0.81,"color":"#222"},{"offset":0.8115,"color":"#fff"},{"offset":0.8185,"color":"#fff"},
          {"offset":0.82,"color":"#222"},{"offset":0.8215,"color":"#fff"},{"offset":0.8285,"color":"#fff"},
          {"offset":0.83,"color":"#222"},{"offset":0.8315,"color":"#fff"},{"offset":0.8385,"color":"#fff"},
          {"offset":0.84,"color":"#222"},{"offset":0.8415,"color":"#fff"},{"offset":0.8485,"color":"#fff"},
          {"offset":0.85,"color":"#222"},{"offset":0.8515,"color":"#fff"},{"offset":0.8585,"color":"#fff"},
          {"offset":0.86,"color":"#222"},{"offset":0.8615,"color":"#fff"},{"offset":0.8685,"color":"#fff"},
          {"offset":0.87,"color":"#222"},{"offset":0.8715,"color":"#fff"},{"offset":0.8785,"color":"#fff"},
          {"offset":0.88,"color":"#222"},{"offset":0.8815,"color":"#fff"},{"offset":0.8885,"color":"#fff"},
          {"offset":0.89,"color":"#222"},{"offset":0.8915,"color":"#fff"},{"offset":0.8985,"color":"#fff"},
          {"offset":0.90,"color":"#222"},{"offset":0.9015,"color":"#fff"},{"offset":0.9085,"color":"#fff"},
          {"offset":0.91,"color":"#222"},{"offset":0.9115,"color":"#fff"},{"offset":0.9185,"color":"#fff"},
          {"offset":0.92,"color":"#222"},{"offset":0.9215,"color":"#fff"}
        ]}},
      "encoding": {
        "x": {"field": "xp", "type": "quantitative", "axis": null},
        "y": {"field": "C", "type": "quantitative", "axis": null},
        "y2": {"datum": 1}
      }
    },
    {
      "data": {"name": "pts"},
      "transform": [{"filter": "isValid(datum.lo)"}],
      "mark": {"type": "rule", "color": "#222", "strokeWidth": 1.2, "clip": true},
      "encoding": {
        "x": {"field": "xc", "type": "quantitative", "axis": null},
        "y": {"field": "lo", "type": "quantitative", "axis": null},
        "y2": {"field": "hi"}
      }
    },
    {
      "data": {"name": "pts"},
      "mark": {"type": "circle", "color": "black", "size": 40, "opacity": 1, "clip": true},
      "encoding": {
        "x": {"field": "xc", "type": "quantitative", "axis": null},
        "y": {"field": "n", "type": "quantitative", "axis": null}
      }
    },
    {
      "data": {"name": "legend"},
      "transform": [{"filter": "datum.item != 'continuum B.G.'"}],
      "mark": {"type": "point", "opacity": 0, "filled": true},
      "encoding": {
        "fill": {"field": "item", "type": "nominal", "sort": null,
          "scale": {"domain": ["DATA","MC(signal)","τ⁻ → h⁻(nπ⁰)ντ","τ⁻ → K⁻π⁰ντ","τ⁻ → ω⁰π⁻ντ"], "range": ["black","white","#f2f2f2","#a6a6a6","#4a4a4a"]},
          "legend": {"orient": "none", "legendX": 330, "legendY": 40, "title": null,
            "labelFont": "Liberation Serif", "labelFontSize": 20, "labelFontWeight": "bold", "labelColor": "#111", "labelOffset": 9, "rowPadding": 18,
            "symbolStrokeColor": "black", "symbolStrokeWidth": 1.4, "symbolOpacity": 1, "symbolSize": 484,
            "labelExpr": "datum.label == 'τ⁻ → ω⁰π⁻ντ' ? ['τ⁻ → ω⁰π⁻ντ', '   ( ω⁰ → π⁰γ )'] : datum.label",
            "encode": {"symbols": {"update": {"opacity": {"value": 1}}}, "labels": {"update": {"lineHeight": {"value": 20}}}}}},
        "shape": {"field": "item", "type": "nominal", "sort": null,
          "scale": {"domain": ["DATA","MC(signal)","τ⁻ → h⁻(nπ⁰)ντ","τ⁻ → K⁻π⁰ντ","τ⁻ → ω⁰π⁻ντ"], "range": ["M-0.35,0A0.35,0.35,0,1,1,0.35,0A0.35,0.35,0,1,1,-0.35,0Z","M-1,-0.6H1V0.6H-1Z","M-1,-0.6H1V0.6H-1Z","M-1,-0.6H1V0.6H-1Z","M-1,-0.6H1V0.6H-1Z"]},
          "legend": {"orient": "none", "legendX": 330, "legendY": 40, "title": null}}
      }
    },
    {
      "data": {"name": "legend"},
      "transform": [{"filter": "datum.item == 'continuum B.G.'"}],
      "mark": {"type": "point", "opacity": 0, "filled": true},
      "encoding": {
        "color": {"field": "item", "type": "nominal",
          "scale": {"domain": ["continuum B.G."], "range": ["#dcdcdc"]},
          "legend": {"orient": "none", "legendX": 330, "legendY": 249, "title": null,
            "labelFont": "Liberation Serif", "labelFontSize": 20, "labelFontWeight": "bold", "labelColor": "#111", "labelOffset": 9,
            "symbolType": "M-1,-0.6H1V0.6H-1Z", "symbolStrokeColor": "black", "symbolStrokeWidth": 1.4, "symbolOpacity": 1, "symbolSize": 484,
            "encode": {"symbols": {"update": {"opacity": {"value": 1}, "stroke": {"value": "black"}, "fill": {"value": "#dcdcdc"}}}}}}
      }
    }
  ],
  "resolve": {"axis": {"x": "independent", "y": "independent"}}
}
